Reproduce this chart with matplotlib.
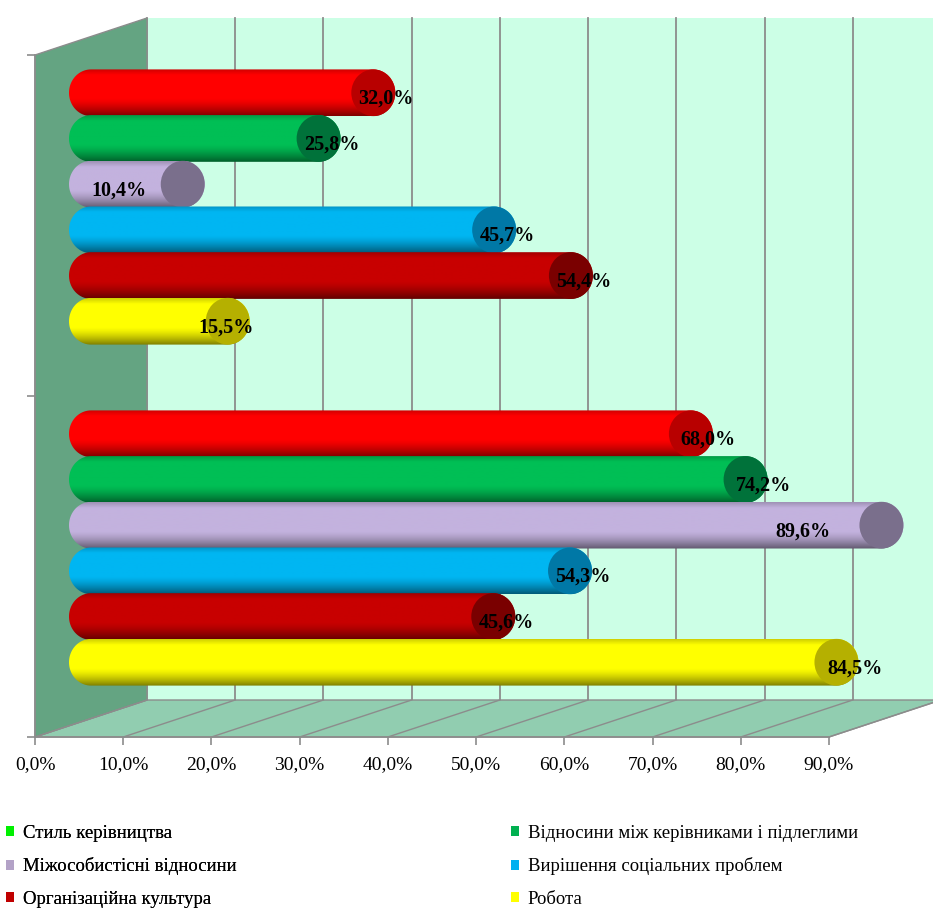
"""Horizontal 3D-style cylinder bar chart with two groups of six factors."""

import matplotlib

matplotlib.use("Agg")

import matplotlib.pyplot as plt
import numpy as np
from matplotlib.colors import to_rgb
from matplotlib.patches import Ellipse, Patch, Polygon

plt.rcParams["font.family"] = ["Liberation Serif", "DejaVu Serif"]

SERIES_NAMES = [
    "Стиль керівництва",
    "Відносини між керівниками і підлеглими",
    "Міжособистісні відносини",
    "Вирішення соціальних проблем",
    "Організаційна культура",
    "Робота",
]
# lower group (category 0) and upper group (category 1), in percent
VALUES_LOWER = [68.0, 74.2, 89.6, 54.3, 45.6, 84.5]
VALUES_UPPER = [32.0, 25.8, 10.4, 45.7, 54.4, 15.5]
X_TICKS = [0, 10, 20, 30, 40, 50, 60, 70, 80, 90]

BAR_COLORS = ["#FF0000", "#00BF55", "#C3B2DE", "#00B6F2", "#C80000", "#FFFF00"]
CAP_COLORS = ["#B80000", "#00723A", "#7A6F8C", "#0078A6", "#7A0000", "#B5B000"]
LEGEND_COLORS = ["#00F000", "#00B050", "#B3A2C7", "#00B0F0", "#C00000", "#FFFF00"]

# pixel geometry of the front plane
FIG_W, FIG_H = 933, 909
X0_PX, Y0_PX = 35, 737
PX_PER_PCT = 8.822
PX_PER_CAT = 341

DEPTH_X = 112 / PX_PER_PCT
DEPTH_Y = 37 / PX_PER_CAT
SPACING = 0.134
BAR_H = 0.137
CAP_W = 44 / PX_PER_PCT
GRID = "#8C8C8C"

# label nudges (pixels, relative to cap centre); default is 13 px right
LABEL_NUDGE_PX = {(0, 2): -79, (1, 2): -64, (1, 5): -2, (0, 5): 19, (0, 1): 18, (0, 0): 17}


def shade_profile(n=64):
    s = np.linspace(0, 1, n)
    f = 1.0 - 0.5 * np.clip((0.38 - s) / 0.38, 0, 1) ** 1.4
    f -= 0.18 * np.clip((s - 0.88) / 0.12, 0, 1)
    return f


def draw_cylinder(ax, y, value, color, cap_color, zorder):
    x0 = DEPTH_X / 2
    x1 = value + DEPTH_X / 2
    t_right = np.linspace(np.pi / 2, -np.pi / 2, 40)
    t_left = np.linspace(-np.pi / 2, -3 * np.pi / 2, 40)
    right = np.column_stack([x1 + CAP_W / 2 * np.cos(t_right), y + BAR_H / 2 * np.sin(t_right)])
    left = np.column_stack([x0 + CAP_W / 2 * np.cos(t_left), y + BAR_H / 2 * np.sin(t_left)])
    body = Polygon(np.vstack([right, left]), closed=True, facecolor="none", edgecolor="none", zorder=zorder)
    ax.add_patch(body)

    rgb = np.array(to_rgb(color))
    grad = shade_profile()[:, None, None] * rgb[None, None, :]
    im = ax.imshow(
        grad,
        extent=[x0 - CAP_W / 2, x1 + CAP_W / 2, y - BAR_H / 2, y + BAR_H / 2],
        origin="lower",
        aspect="auto",
        interpolation="bilinear",
        zorder=zorder,
    )
    im.set_clip_path(body)

    cap = Ellipse((x1, y), CAP_W, BAR_H, facecolor=cap_color, edgecolor="none", zorder=zorder + 0.1)
    ax.add_patch(cap)


def main():
    fig = plt.figure(figsize=(FIG_W / 100, FIG_H / 100), dpi=100)
    ax = fig.add_axes([0, 0, 1, 1])
    xlim = (-X0_PX / PX_PER_PCT, (FIG_W - X0_PX) / PX_PER_PCT)
    ylim = ((Y0_PX - FIG_H) / PX_PER_CAT - 0.5, Y0_PX / PX_PER_CAT - 0.5)

    y_bot, y_top = -0.5, 1.5
    x_end = X_TICKS[-1]

    # walls and floor
    ax.add_patch(Polygon([(DEPTH_X, y_bot + DEPTH_Y), (x_end + DEPTH_X + 5, y_bot + DEPTH_Y),
                          (x_end + DEPTH_X + 5, y_top + DEPTH_Y), (DEPTH_X, y_top + DEPTH_Y)],
                         facecolor="#CCFFE6", edgecolor="none", zorder=0))
    ax.add_patch(Polygon([(0, y_bot), (x_end, y_bot), (x_end + DEPTH_X, y_bot + DEPTH_Y), (DEPTH_X, y_bot + DEPTH_Y)],
                         facecolor="#91CDB0", edgecolor=GRID, linewidth=1.0, zorder=1))
    ax.add_patch(Polygon([(0, y_bot), (DEPTH_X, y_bot + DEPTH_Y), (DEPTH_X, y_top + DEPTH_Y), (0, y_top)],
                         facecolor="#64A482", edgecolor=GRID, linewidth=1.0, zorder=1))
    for t in X_TICKS:
        ax.plot([t + DEPTH_X, t + DEPTH_X], [y_bot + DEPTH_Y, y_top + DEPTH_Y], color=GRID, lw=1.3, zorder=0.5)
        ax.plot([t, t + DEPTH_X], [y_bot, y_bot + DEPTH_Y], color=GRID, lw=1.0, zorder=1.5)

    # cylinders, drawn top to bottom
    z = 3
    for g, values in ((1, VALUES_UPPER), (0, VALUES_LOWER)):
        for i, v in enumerate(values):
            yc = g + (2.5 - i) * SPACING + DEPTH_Y / 2
            draw_cylinder(ax, yc, v, BAR_COLORS[i], CAP_COLORS[i], z)
            z += 1
    for g, values in ((1, VALUES_UPPER), (0, VALUES_LOWER)):
        for i, v in enumerate(values):
            yc = g + (2.5 - i) * SPACING + DEPTH_Y / 2
            nudge = LABEL_NUDGE_PX.get((g, i), 13) / PX_PER_PCT
            ax.text(v + DEPTH_X / 2 + nudge, yc - 6 / PX_PER_CAT, f"{v:.1f}%".replace(".", ","),
                    ha="center", va="center", fontsize=14.5, fontweight="bold", color="black", zorder=100)

    # axes frame of the front plane
    for side in ("top", "right"):
        ax.spines[side].set_visible(False)
    ax.spines["bottom"].set_position(("data", y_bot))
    ax.spines["bottom"].set_bounds(0, x_end)
    ax.spines["left"].set_position(("data", 0))
    ax.spines["left"].set_bounds(y_bot, y_top)
    for side in ("bottom", "left"):
        ax.spines[side].set_color(GRID)
        ax.spines[side].set_linewidth(1.2)
        ax.spines[side].set_zorder(2)
    ax.set_xticks(X_TICKS)
    ax.set_xticklabels([f"{t:.1f}%".replace(".", ",") for t in X_TICKS], fontsize=14)
    ax.set_yticks([y_bot, 0.5, y_top])
    ax.set_yticklabels([])
    ax.tick_params(axis="both", direction="out", length=6, color=GRID, width=1.2, pad=8)
    ax.set_xlim(*xlim)
    ax.set_ylim(*ylim)

    handles = [Patch(facecolor=c, edgecolor="none") for c in LEGEND_COLORS]
    leg_kw = dict(loc="upper left", frameon=False, fontsize=13.5, borderpad=0, borderaxespad=0,
                  handlelength=0.45, handleheight=0.45, handletextpad=0.45, labelspacing=0.82)
    leg1 = fig.legend(handles[0::2], SERIES_NAMES[0::2], bbox_to_anchor=(6 / FIG_W, 1 - 825 / FIG_H), **leg_kw)
    fig.legend(handles[1::2], SERIES_NAMES[1::2], bbox_to_anchor=(511 / FIG_W, 1 - 825 / FIG_H), **leg_kw)
    fig.add_artist(leg1)

    fig.savefig("out.png", dpi=100, facecolor="white")
    plt.close(fig)


if __name__ == "__main__":
    main()
